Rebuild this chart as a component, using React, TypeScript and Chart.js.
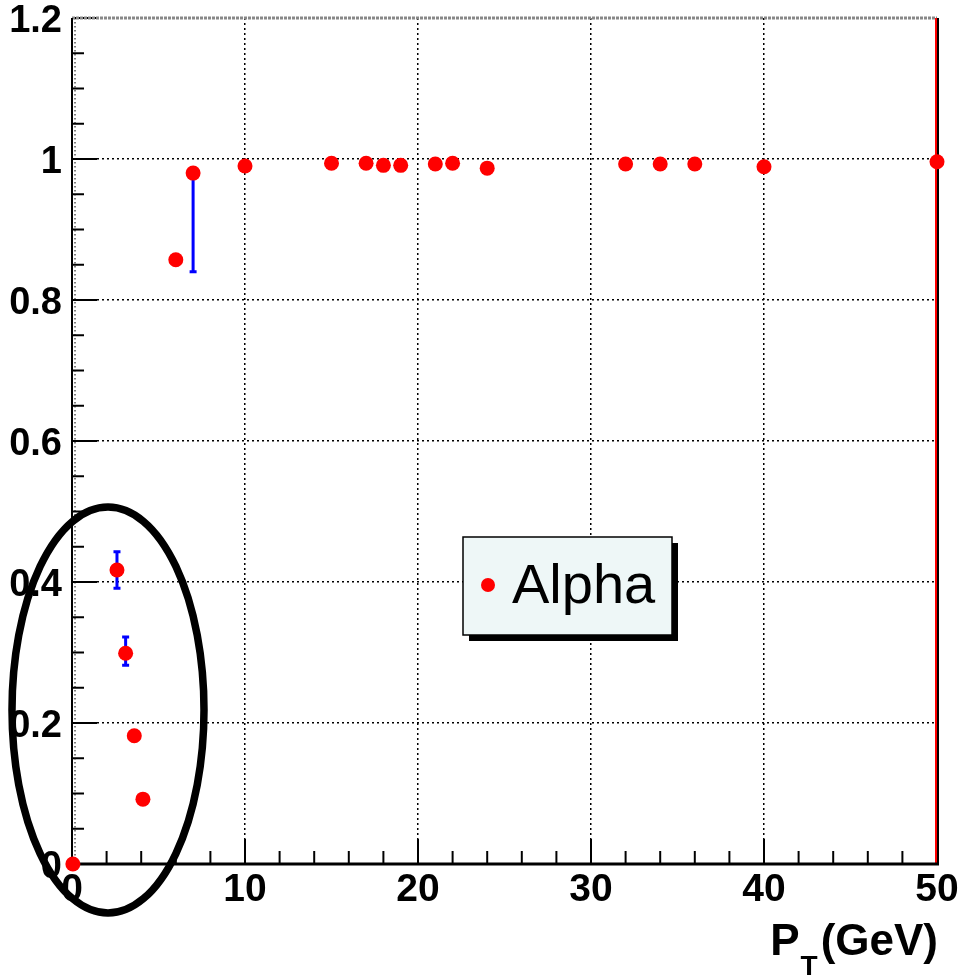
import { useEffect, useRef } from 'react';
import { Chart, registerables } from 'chart.js';

Chart.register(...registerables);

// ---- data ----
const ptValues = [0.05, 2.6, 3.1, 3.6, 4.1, 6.0, 7.0, 10.0, 15.0, 17.0, 18.0, 19.0, 21.0, 22.0, 24.0, 32.0, 34.0, 36.0, 40.0, 50.0];
const alphaValues = [0.0, 0.417, 0.299, 0.182, 0.092, 0.857, 0.98, 0.99, 0.994, 0.994, 0.991, 0.991, 0.993, 0.994, 0.987, 0.993, 0.993, 0.993, 0.989, 0.996];
const errLow = [0, 0.026, 0.017, 0, 0, 0, 0.14, 0, 0, 0, 0, 0, 0, 0, 0, 0, 0, 0, 0, 0];
const errHigh = [0, 0.026, 0.023, 0, 0, 0, 0, 0, 0, 0, 0, 0, 0, 0, 0, 0, 0, 0, 0, 0];
const xTicks = [0, 10, 20, 30, 40, 50];
const yTicks = [0, 0.2, 0.4, 0.6, 0.8, 1.0, 1.2];
const seriesLabel = 'Alpha';
const xTitleMain = 'P';
const xTitleSub = 'T';
const xTitleTail = '(GeV)';

const FONT = '"Liberation Sans", Arial, Helvetica, sans-serif';

const rootPlugin = {
  id: 'rootStyle',
  beforeDatasetsDraw(chart: any) {
    const { ctx, chartArea: ca, scales } = chart;
    const x = scales.x;
    const y = scales.y;
    ctx.save();
    // faint dotted column next to the y axis
    ctx.strokeStyle = '#555';
    ctx.lineWidth = 1.5;
    ctx.setLineDash([1.5, 2.5]);
    ctx.beginPath();
    ctx.moveTo(ca.left + 3, ca.top);
    ctx.lineTo(ca.left + 3, ca.bottom);
    ctx.stroke();
    ctx.setLineDash([]);
    // inward ticks
    ctx.strokeStyle = '#000';
    ctx.lineWidth = 2;
    for (let v = 0; v <= 50; v += 2) {
      const px = x.getPixelForValue(v);
      const len = v % 10 === 0 ? 25 : 13;
      ctx.beginPath();
      ctx.moveTo(px, ca.bottom);
      ctx.lineTo(px, ca.bottom - len);
      ctx.stroke();
    }
    for (let i = 0; i <= 24; i++) {
      const py = y.getPixelForValue(i * 0.05);
      const len = i % 4 === 0 ? 25 : 12;
      ctx.beginPath();
      ctx.moveTo(ca.left, py);
      ctx.lineTo(ca.left + len, py);
      ctx.stroke();
    }
    // frame
    ctx.strokeStyle = '#888';
    ctx.lineWidth = 3;
    ctx.setLineDash([3, 1]);
    ctx.beginPath();
    ctx.moveTo(ca.left, ca.top);
    ctx.lineTo(ca.right, ca.top);
    ctx.stroke();
    ctx.setLineDash([]);
    ctx.strokeStyle = '#000';
    ctx.lineWidth = 2;
    ctx.beginPath();
    ctx.moveTo(ca.left, ca.top);
    ctx.lineTo(ca.left, ca.bottom);
    ctx.stroke();
    ctx.beginPath();
    ctx.moveTo(ca.right + 1, ca.top);
    ctx.lineTo(ca.right + 1, ca.bottom);
    ctx.stroke();
    ctx.strokeStyle = '#ff0000';
    ctx.beginPath();
    ctx.moveTo(ca.right - 1, ca.top);
    ctx.lineTo(ca.right - 1, ca.bottom);
    ctx.stroke();
    ctx.strokeStyle = '#000';
    ctx.lineWidth = 3;
    ctx.beginPath();
    ctx.moveTo(ca.left, ca.bottom);
    ctx.lineTo(ca.right + 2, ca.bottom);
    ctx.stroke();
    // error bars
    ctx.strokeStyle = '#0000ff';
    ctx.lineWidth = 3;
    ptValues.forEach((pt, i) => {
      if (!errLow[i] && !errHigh[i]) return;
      const px = x.getPixelForValue(pt);
      const y1 = y.getPixelForValue(alphaValues[i] - errLow[i]);
      const y2 = y.getPixelForValue(alphaValues[i] + errHigh[i]);
      ctx.beginPath();
      ctx.moveTo(px, y1);
      ctx.lineTo(px, y2);
      if (errLow[i]) {
        ctx.moveTo(px - 3.5, y1);
        ctx.lineTo(px + 3.5, y1);
      }
      if (errHigh[i]) {
        ctx.moveTo(px - 3.5, y2);
        ctx.lineTo(px + 3.5, y2);
      }
      ctx.stroke();
    });
    ctx.restore();
  },
  afterDraw(chart: any) {
    const { ctx, chartArea: ca } = chart;
    ctx.save();
    // legend box
    const lx = ca.left + 391;
    const ly = ca.top + 519;
    const lw = 209;
    const lh = 98;
    ctx.fillStyle = '#000';
    ctx.fillRect(lx + 6, ly + 6, lw, lh);
    ctx.fillStyle = '#eef7f7';
    ctx.fillRect(lx, ly, lw, lh);
    ctx.strokeStyle = '#000';
    ctx.lineWidth = 1.5;
    ctx.strokeRect(lx, ly, lw, lh);
    ctx.fillStyle = '#ff0000';
    ctx.beginPath();
    ctx.arc(lx + 25, ly + 48, 7, 0, Math.PI * 2);
    ctx.fill();
    ctx.fillStyle = '#000';
    ctx.font = `56px ${FONT}`;
    ctx.textAlign = 'left';
    ctx.textBaseline = 'alphabetic';
    ctx.fillText(seriesLabel, lx + 49, ly + 66);

    // axis title P_T(GeV)
    ctx.font = `bold 44px ${FONT}`;
    const wTail = ctx.measureText(xTitleTail).width;
    const wP = ctx.measureText(xTitleMain).width;
    ctx.font = `bold 28px ${FONT}`;
    const wT = ctx.measureText(xTitleSub).width;
    const tailX = ca.right + 1 - wTail;
    const tX = tailX - wT - 3;
    const pX = tX - wP - 1;
    const base = ca.bottom + 91;
    ctx.font = `bold 44px ${FONT}`;
    ctx.fillText(xTitleMain, pX, base);
    ctx.fillText(xTitleTail, tailX, base);
    ctx.font = `bold 28px ${FONT}`;
    ctx.fillText(xTitleSub, tX, base + 20);

    // ellipse annotation
    ctx.strokeStyle = '#000';
    ctx.lineWidth = 7.5;
    ctx.beginPath();
    ctx.ellipse(ca.left + 36, ca.top + 692, 96, 203, 0, 0, Math.PI * 2);
    ctx.stroke();
    ctx.restore();
  },
};

export default function App() {
  const ref = useRef<HTMLCanvasElement | null>(null);
  useEffect(() => {
    if (!ref.current) return;
    const chart = new Chart(ref.current, {
      type: 'scatter',
      data: {
        datasets: [
          {
            label: seriesLabel,
            data: ptValues.map((p, i) => ({ x: p, y: alphaValues[i] })),
            backgroundColor: '#ff0000',
            borderColor: '#ff0000',
            pointRadius: 7.5,
            pointBorderWidth: 0,
            clip: false as any,
          },
        ],
      },
      options: {
        responsive: false,
        animation: false,
        devicePixelRatio: 1,
        layout: { padding: { top: 18, right: 30, left: 0, bottom: 0 } },
        plugins: { legend: { display: false }, tooltip: { enabled: false } },
        scales: {
          x: {
            type: 'linear',
            min: 0,
            max: 50,
            afterBuildTicks: (s: any) => {
              s.ticks = xTicks.map((v) => ({ value: v }));
            },
            afterFit: (s: any) => {
              s.height = 114;
              s.paddingLeft = 0;
              s.paddingRight = 0;
            },
            ticks: {
              color: '#000',
              font: { family: FONT, size: 39, weight: 'bold' },
              padding: 3,
              maxRotation: 0,
              autoSkip: false,
            },
            grid: {
              drawTicks: false,
              color: (c: any) => (c.tick && (c.tick.value === 0 || c.tick.value === 50) ? 'rgba(0,0,0,0)' : '#000'),
              lineWidth: 1.5,
            },
            border: { display: false, dash: [2, 3] },
          },
          y: {
            type: 'linear',
            min: 0,
            max: 1.2,
            afterBuildTicks: (s: any) => {
              s.ticks = yTicks.map((v) => ({ value: v }));
            },
            afterFit: (s: any) => {
              s.width = 72;
              s.paddingTop = 0;
              s.paddingBottom = 0;
            },
            ticks: {
              color: '#000',
              font: { family: FONT, size: 38, weight: 'bold' },
              padding: 10,
              labelOffset: 4,
              autoSkip: false,
              callback: (v: any) => String(+Number(v).toFixed(1)),
            },
            grid: {
              drawTicks: false,
              color: (c: any) =>
                c.tick && (Math.abs(c.tick.value) < 1e-9 || Math.abs(c.tick.value - 1.2) < 1e-9) ? 'rgba(0,0,0,0)' : '#000',
              lineWidth: 1.5,
            },
            border: { display: false, dash: [2, 3] },
          },
        },
      },
      plugins: [rootPlugin],
    });
    return () => chart.destroy();
  }, []);
  return (
    <div style={{ position: 'absolute', left: 0, top: 0, width: 967, height: 978, background: '#fff' }}>
      <canvas ref={ref} width={967} height={978} style={{ display: 'block' }} />
    </div>
  );
}
